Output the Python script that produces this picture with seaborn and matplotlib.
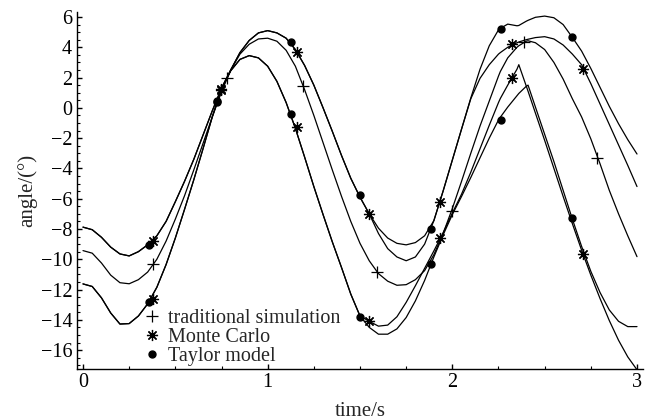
import matplotlib
matplotlib.use("Agg")
import matplotlib.pyplot as plt
from matplotlib.ticker import MultipleLocator
import seaborn as sns

# time samples (s)
t = [0.00, 0.05, 0.10, 0.15, 0.20, 0.25, 0.30, 0.35, 0.40, 0.45,
     0.50, 0.55, 0.60, 0.65, 0.70, 0.75, 0.80, 0.85, 0.90, 0.95,
     1.00, 1.05, 1.10, 1.15, 1.20, 1.25, 1.30, 1.35, 1.40, 1.45,
     1.50, 1.55, 1.60, 1.65, 1.70, 1.75, 1.80, 1.85, 1.90, 1.95,
     2.00, 2.05, 2.10, 2.15, 2.20, 2.25, 2.26, 2.30, 2.35, 2.36,
     2.40, 2.41, 2.45, 2.50, 2.55, 2.60, 2.65, 2.70, 2.75, 2.80,
     2.85, 2.90, 2.95, 3.00]

# Taylor model upper bound
tm_upper = [-7.88, -8.05, -8.55, -9.2, -9.65, -9.78, -9.5, -9.05, -8.45, -7.5,
            -6.2, -4.85, -3.4, -1.8, -0.2, 1.3, 2.5, 3.65, 4.45, 4.95,
            5.1, 4.95, 4.6, 3.85, 2.8, 1.5, 0.0, -1.55, -3.15, -4.65,
            -5.9, -7.0, -7.95, -8.6, -8.95, -9.05, -8.9, -8.45, -7.45, -5.5,
            -3.45, -1.4, 0.65, 2.55, 4.1, 5.15, 5.25, 5.53, 5.42, 5.44,
            5.72, 5.78, 5.98, 6.06, 5.95, 5.5, 4.65, 3.75, 2.6, 1.35,
            0.1, -1.05, -2.1, -3.05]

# Monte Carlo upper bound
mc_upper = [-7.88, -8.05, -8.55, -9.2, -9.65, -9.78, -9.5, -9.05, -8.45, -7.5,
            -6.2, -4.85, -3.4, -1.8, -0.2, 1.3, 2.5, 3.65, 4.45, 4.95,
            5.1, 4.95, 4.6, 3.85, 2.8, 1.5, 0.0, -1.55, -3.15, -4.65,
            -5.9, -7.0, -8.3, -9.3, -9.85, -10.1, -9.85, -9.0, -7.45, -5.5,
            -3.45, -1.4, 0.6, 1.95, 2.85, 3.55, 3.65, 4.0, 4.3, 4.35,
            4.5, 4.53, 4.64, 4.7, 4.55, 4.15, 3.55, 2.85, 1.6, 0.25,
            -1.1, -2.45, -3.8, -5.2]

# traditional simulation (nominal)
nominal = [-9.43, -9.6, -10.25, -11.05, -11.55, -11.62, -11.35, -10.85, -10.0, -8.8,
           -7.35, -5.8, -4.1, -2.35, -0.6, 1.05, 2.5, 3.55, 4.2, 4.55,
           4.6, 4.4, 3.8, 2.75, 1.2, -0.5, -2.3, -4.1, -5.85, -7.5,
           -8.95, -10.1, -10.95, -11.45, -11.72, -11.68, -11.35, -10.75, -9.7, -8.3,
           -6.65, -4.85, -3.0, -1.2, 0.45, 2.1, 2.4, 3.3, 4.0, 4.1,
           4.4, 4.43, 4.3, 3.85, 3.0, 1.9, 0.6, -0.6, -2.05, -3.7,
           -5.45, -7.0, -8.45, -9.83]

# Monte Carlo lower bound
mc_lower = [-11.63, -11.8, -12.55, -13.55, -14.28, -14.25, -13.75, -12.95, -11.85, -10.35,
            -8.6, -6.7, -4.75, -2.7, -0.6, 1.25, 2.45, 3.2, 3.45, 3.3,
            2.75, 1.75, 0.35, -1.35, -3.25, -5.2, -7.05, -8.85, -10.55, -12.3,
            -13.75, -14.1, -14.42, -14.35, -13.8, -12.85, -11.75, -10.6, -9.45, -8.25,
            -6.95, -5.7, -4.25, -2.7, -1.15, 0.35, 0.62, 1.5, 2.55, 2.85,
            1.45, 1.1, -0.35, -2.15, -4.0, -5.85, -7.65, -9.4, -11.05, -12.6,
            -14.05, -15.35, -16.45, -17.3]

# Taylor model lower bound
tm_lower = [-11.63, -11.8, -12.55, -13.55, -14.28, -14.25, -13.75, -12.95, -11.85, -10.35,
            -8.6, -6.7, -4.75, -2.7, -0.6, 1.25, 2.45, 3.2, 3.45, 3.3,
            2.75, 1.75, 0.35, -1.35, -3.25, -5.2, -7.05, -8.85, -10.55, -12.3,
            -13.75, -14.5, -14.95, -14.95, -14.6, -13.85, -12.75, -11.4, -9.85, -8.4,
            -7.05, -5.85, -4.6, -3.3, -2.0, -0.8, -0.62, 0.05, 0.8, 0.95,
            1.42, 1.5, 0.05, -1.75, -3.55, -5.45, -7.35, -9.15, -10.8, -12.2,
            -13.35, -14.1, -14.45, -14.45]

# marker positions
ts_t = [0.381, 0.778, 1.19, 1.59, 1.996, 2.388, 2.786]
ts_y = [-10.3, 1.95, 1.44, -10.86, -6.8, 4.33, -3.3]

mc_t = [0.377, 0.747, 1.16, 1.548, 1.935, 2.325, 2.709]
mc_up = [-8.8, 1.22, 3.67, -7.03, -6.24, 4.22, 2.57]
mc_lo = [-12.6, 1.2, -1.29, -14.1, -8.62, 2.0, -9.65]

tm_t = [0.357, 0.724, 1.124, 1.5, 1.884, 2.263, 2.646]
tm_up = [-9.06, 0.45, 4.37, -5.76, -8.03, 5.23, 4.7]
tm_lo = [-12.85, 0.4, -0.38, -13.8, -10.33, -0.8, -7.28]

sns.set_theme(style="ticks")
plt.rcParams['font.family'] = ['Liberation Serif', 'DejaVu Serif']
plt.rcParams['axes.unicode_minus'] = True

fig = plt.figure(figsize=(6.45, 4.2), dpi=100)
ax = fig.add_axes([77 / 645, 51 / 420, 566 / 645, 357 / 420])

for curve in [tm_upper, mc_upper, nominal, mc_lower, tm_lower]:
    sns.lineplot(x=t, y=curve, color="black", linewidth=0.9, ax=ax)

ax.plot(ts_t, ts_y, ls="none", marker="+", ms=8, mew=0.9, color="black",
        label="traditional simulation")
ax.plot(mc_t + mc_t, mc_up + mc_lo, ls="none", marker=(8, 2, 0), ms=8, mew=0.9,
        color="black", label="Monte Carlo")
ax.plot(tm_t + tm_t, tm_up + tm_lo, ls="none", marker="o", ms=5, color="black",
        label="Taylor model")

ax.set_xlim(-0.0325, 3.0325)
ax.set_ylim(-17.25, 6.33)
ax.xaxis.set_major_locator(MultipleLocator(1))
ax.xaxis.set_minor_locator(MultipleLocator(0.25))
ax.yaxis.set_major_locator(MultipleLocator(2))
ax.yaxis.set_minor_locator(MultipleLocator(0.5))
ax.tick_params(which="both", direction="in", colors="black", labelsize=14.5)
ax.tick_params(which="major", length=3.5, width=1.0)
ax.tick_params(which="minor", length=2.0, width=0.8)
ax.tick_params(axis="x", pad=3)
sns.despine(ax=ax)
for s in ["left", "bottom"]:
    ax.spines[s].set_linewidth(1.0)
    ax.spines[s].set_color("black")

ax.set_xlabel("time/s", fontsize=15, labelpad=7)
ax.set_ylabel("angle/(°)", fontsize=15, labelpad=2)

ax.legend(loc="lower left", bbox_to_anchor=(0.118, 0.008), frameon=False,
          handlelength=0.8, handletextpad=0.4, labelspacing=0.0,
          borderpad=0, borderaxespad=0, fontsize=14.5)

fig.savefig("out.png", dpi=100)
